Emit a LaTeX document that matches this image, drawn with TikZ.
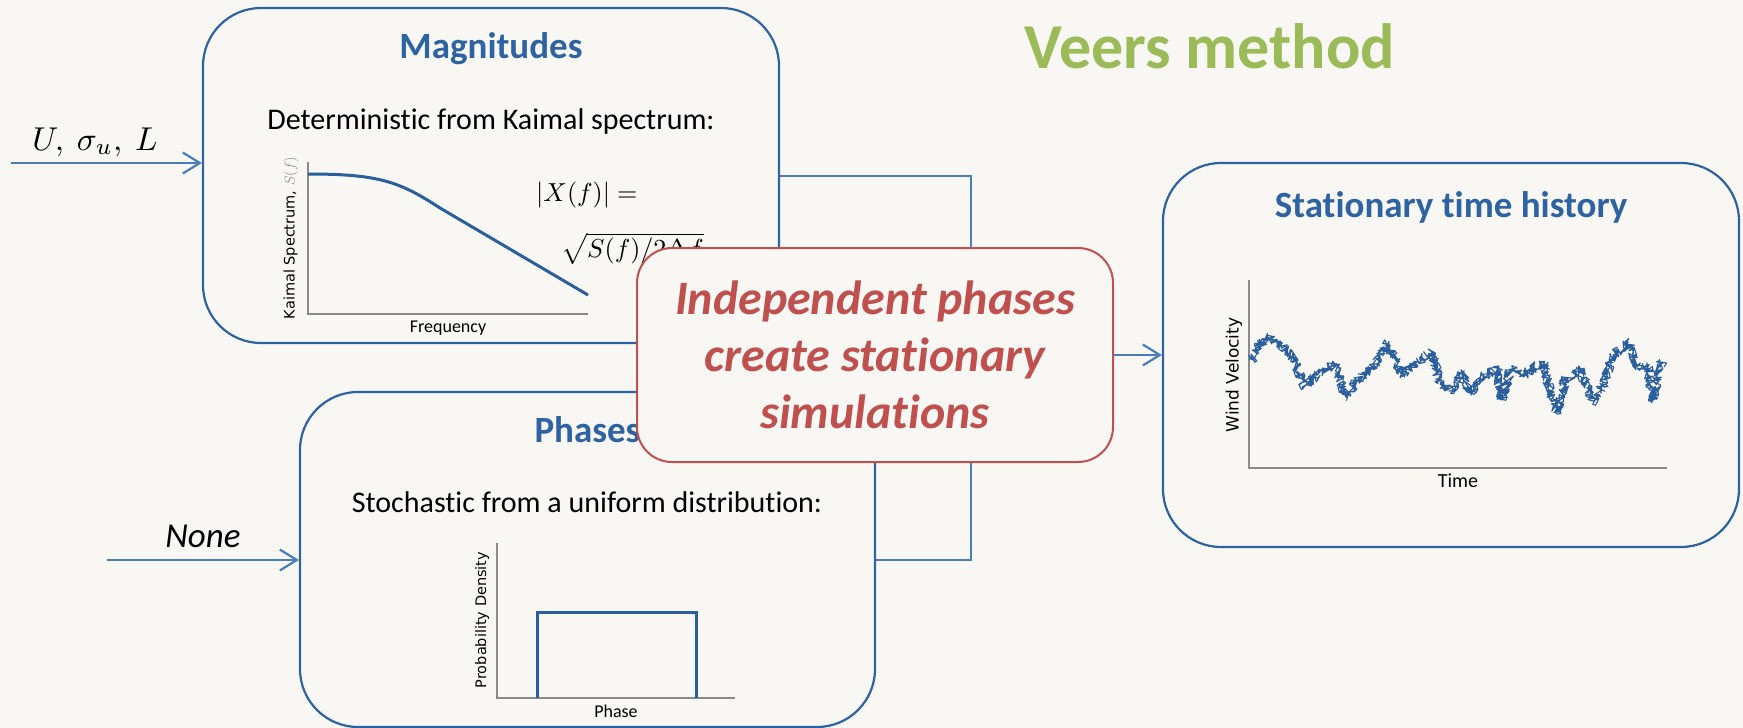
\documentclass[tikz,border=0pt]{standalone}
\usepackage{graphicx}
\usepackage{fontspec}
\setmainfont{Carlito}[Ligatures=NoCommon]
\newfontfamily\axisfont{DejaVu Sans}
\usetikzlibrary{arrows.meta,decorations.pathmorphing}

\definecolor{bgc}{HTML}{F8F7F3}
\definecolor{boxblue}{HTML}{2E63A3}
\definecolor{lineblue}{HTML}{4A7EBB}
\definecolor{plotblue}{HTML}{2B5E9C}
\definecolor{redc}{HTML}{C0504D}
\definecolor{greenc}{HTML}{9BBB59}
\definecolor{axisgray}{HTML}{8A8A8A}

\tikzset{
  panel/.style={draw=boxblue, line width=2.2pt, fill=bgc, rounded corners=58pt, inner sep=0pt},
  callout/.style={draw=redc, line width=2pt, fill=bgc, rounded corners=35pt, inner sep=0pt,
    align=center, text=redc, font=\fontsize{48}{57}\selectfont\bfseries\itshape},
  paneltitle/.style={anchor=base, text=boxblue, font=\fontsize{37}{44}\selectfont\bfseries, inner sep=0pt},
  bodytext/.style={anchor=base, font=\fontsize{30}{36}\selectfont, inner sep=0pt},
  inlabel/.style={anchor=base, inner sep=0pt},
  axislabel/.style={inner sep=0pt, font=\fontsize{18}{22}\selectfont},
  ylab/.style={inner sep=0pt, rotate=90, font=\axisfont\fontsize{14.5}{17}\selectfont},
  axisline/.style={draw=axisgray, line width=1.3pt},
  curve/.style={draw=plotblue, line width=3pt},
  conn/.style={draw=lineblue, line width=2.2pt},
  arr/.style={conn, -{Straight Barb[length=17pt,width=21pt]}},
  noisy/.style={draw=plotblue, line width=1.1pt, line join=round,
    decorate, decoration={random steps, segment length=0.6pt, amplitude=5pt}},
}

\begin{document}
\begin{tikzpicture}[x=1pt,y=-1pt]
  % canvas
  \fill[bgc] (0,0) rectangle (1743,728);
  \useasboundingbox (0,0) rectangle (1743,728);

  % heading
  \node[anchor=base, inner sep=0pt, text=greenc, font=\fontsize{64}{76}\selectfont\bfseries]
    (heading) at (1210,68) {Veers method};

  % three panels
  \node[panel, minimum width=576pt, minimum height=335pt] (mag) at (491,175.5) {};
  \node[panel, minimum width=575pt, minimum height=335pt] (phs) at (587.5,559.5) {};
  \node[panel, minimum width=576pt, minimum height=384pt] (stat) at (1451,355) {};

  % inputs
  \coordinate (in1) at (11,163);
  \coordinate (in2) at (107,560);
  \node[inlabel] (inmag) at (95,150) {\scalebox{3.3}{$U,\ \sigma_u,\ L$}};
  \node[inlabel, font=\fontsize{35}{42}\selectfont\itshape] (inphs) at (203,547) {None};
  \draw[arr] (in1) -- (mag.west |- in1);
  \draw[arr] (in2) -- (phs.west |- in2);

  % magnitudes panel
  \node[paneltitle] (magt) at (491,58) {Magnitudes};
  \node[bodytext] (magd) at (491,129) {Deterministic from Kaimal spectrum:};
  \coordinate (ka0) at (308,162);
  \coordinate (ka1) at (308,314);
  \coordinate (ka2) at (588,314);
  \draw[axisline] (ka0) -- (ka1) -- (ka2);
  \draw[curve] (308,174) .. controls (380,174) and (400,182) .. (440,208) -- (588,295);
  \node[ylab] (kay) at (291,238) {Kaimal Spectrum, \textcolor{axisgray}{$S(f)$}};
  \node[axislabel, anchor=base] (kax) at (448,332) {Frequency};
  \node[inlabel, anchor=base west] (eq1) at (536,201) {\scalebox{2.6}{$|X(f)| =$}};
  \node[inlabel, anchor=base west] (eq2) at (561,257) {\scalebox{2.6}{$\sqrt{S(f)/2\Delta f}$}};

  % phases panel
  \node[paneltitle] (phst) at (587.5,442) {Phases};
  \node[bodytext] (phsd) at (587,512) {Stochastic from a uniform distribution:};
  \coordinate (pa0) at (497,543);
  \coordinate (pa1) at (497,698);
  \coordinate (pa2) at (735,698);
  \draw[axisline] (pa0) -- (pa1) -- (pa2);
  \draw[curve] (537,698) -- (537,612) -- (696,612) -- (696,698);
  \node[ylab] (pay) at (482,620) {Probability Density};
  \node[axislabel, anchor=base] (pax) at (616,717) {Phase};

  % stationary time history panel
  \node[paneltitle] (statt) at (1451,217) {Stationary time history};
  \coordinate (sa0) at (1249,280);
  \coordinate (sa1) at (1249,468);
  \coordinate (sa2) at (1667,468);
  \draw[axisline] (sa0) -- (sa1) -- (sa2);
  \pgfmathsetseed{4217}
  \draw[noisy]
    (1252,360) -- (1258,345) -- (1267,338) -- (1275,341) -- (1290,353) -- (1305,386)
    -- (1320,372) -- (1335,364) -- (1345,396) -- (1358,380) -- (1373,368) -- (1387,345)
    -- (1403,375) -- (1420,360) -- (1432,352) -- (1440,384) -- (1453,390) -- (1462,373)
    -- (1470,393) -- (1483,377) -- (1497,368) -- (1502,400) -- (1510,370) -- (1527,373)
    -- (1543,362) -- (1550,392) -- (1557,412) -- (1565,380) -- (1580,370) -- (1593,401)
    -- (1603,385) -- (1613,355) -- (1628,342) -- (1637,367) -- (1648,367) -- (1653,400)
    -- (1660,363) -- (1664,367);
  \node[ylab, font=\axisfont\fontsize{17}{20}\selectfont] (say) at (1234,375) {Wind Velocity};
  \node[axislabel, anchor=base, font=\fontsize{20}{24}\selectfont] (sax) at (1458,487) {Time};

  % joining lines from the two panels
  \coordinate (jtop) at (971,176);
  \coordinate (jbot) at (971,560);
  \draw[conn] (mag.east |- jtop) -- (jtop) -- (jbot) -- (phs.east |- jbot);

  % central statement
  \node[callout, minimum width=476pt, minimum height=214pt] (red) at (875,355)
    {Independent phases\\create stationary\\simulations};
  \draw[arr] (red.east) -- (stat.west);
\end{tikzpicture}
\end{document}
